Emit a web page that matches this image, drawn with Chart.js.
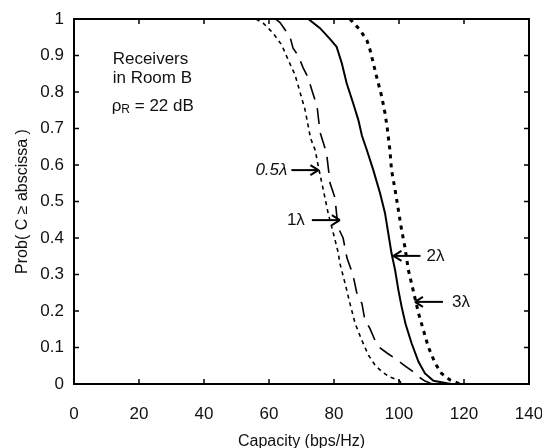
<!DOCTYPE html>
<html><head><meta charset="utf-8">
<script src="https://cdn.jsdelivr.net/npm/chart.js@4/dist/chart.umd.min.js"></script>
<style>html,body{margin:0;padding:0;background:#fff;}canvas{display:block;}</style>
</head><body>
<canvas id="c" width="542" height="448"></canvas>
<script>
// ---- data ----
const cap05  = [56, 58.3, 61.3, 63.9, 65.9, 68.0, 69.5, 71.1, 72.1, 72.8, 74.2, 75.2, 76.7, 78.2, 79.8, 81.3, 81.8, 83.4, 84.9, 86.5, 88.5, 90.6, 92.6, 94.7, 97.0, 100.0, 101.0];
const prob05 = [1, 0.988, 0.961, 0.929, 0.888, 0.847, 0.801, 0.751, 0.705, 0.673, 0.641, 0.595, 0.532, 0.468, 0.413, 0.360, 0.331, 0.276, 0.221, 0.166, 0.121, 0.079, 0.052, 0.034, 0.020, 0.010, 0];
const cap1   = [62, 63.4, 65, 66.5, 67.4, 69, 70.5, 72, 73.2, 74.8, 75.7, 77.7, 78.8, 80.3, 81.2, 82.8, 84, 85.8, 87, 88.6, 89.5, 91, 92.6, 94, 96.3, 98.8, 101.5, 104, 106, 108, 110, 111];
const prob1  = [1, 0.99, 0.97, 0.95, 0.92, 0.90, 0.866, 0.84, 0.805, 0.76, 0.69, 0.633, 0.55, 0.51, 0.43, 0.40, 0.345, 0.30, 0.25, 0.22, 0.175, 0.153, 0.12, 0.10, 0.085, 0.07, 0.052, 0.036, 0.02, 0.008, 0.001, 0];
const cap2   = [72.1, 75.7, 78.8, 80.8, 82.4, 83.9, 85.9, 87.5, 88.6, 90.1, 92.1, 94.2, 95.7, 96.7, 97.7, 98.8, 99.8, 100.8, 102.0, 103.9, 106, 108, 110.6, 114.7, 116];
const prob2  = [1, 0.975, 0.945, 0.924, 0.879, 0.824, 0.769, 0.723, 0.68, 0.641, 0.586, 0.522, 0.468, 0.413, 0.358, 0.312, 0.258, 0.212, 0.165, 0.111, 0.061, 0.029, 0.009, 0.002, 0];
const cap3   = [84.9, 88, 90.1, 91.1, 92.1, 93.1, 94.7, 95.7, 96.4, 97.2, 97.7, 98.8, 99.8, 100.8, 101.8, 102.9, 104.4, 106, 107.5, 109, 111.1, 113.1, 115.7, 118.2, 119.5];
const prob3  = [1, 0.97, 0.942, 0.915, 0.879, 0.842, 0.787, 0.742, 0.70, 0.641, 0.586, 0.532, 0.477, 0.422, 0.376, 0.312, 0.255, 0.194, 0.148, 0.102, 0.057, 0.029, 0.011, 0.002, 0];
const xTickLabels = ['0', '20', '40', '60', '80', '100', '120', '140'];
const yTickLabels = ['0', '0.1', '0.2', '0.3', '0.4', '0.5', '0.6', '0.7', '0.8', '0.9', '1'];
const curveNames  = ['0.5λ', '1λ', '2λ', '3λ'];
const arrowCap    = [75.2, 81.8, 98.3, 104.9];
const arrowProb   = [0.586, 0.449, 0.351, 0.225];
const noteLines   = ['Receivers', 'in Room B'];

const FONT = '"Liberation Sans", Arial, Helvetica, sans-serif';
const pts = (xs, ys) => xs.map((v, i) => ({x: v, y: ys[i]}));

const deco = {
  id: 'deco',
  afterDatasetsDraw(chart) {
    const {ctx, chartArea: a, scales: {x, y}} = chart;
    ctx.save();
    ctx.strokeStyle = '#000'; ctx.fillStyle = '#111';
    ctx.lineWidth = 2;
    ctx.strokeRect(a.left, a.top, a.right - a.left, a.bottom - a.top);
    const seg = (x1, y1, x2, y2) => { ctx.beginPath(); ctx.moveTo(x1, y1); ctx.lineTo(x2, y2); ctx.stroke(); };
    ctx.lineWidth = 1.5;
    const tl = 5;
    x.ticks.forEach(t => {
      if (t.value <= x.min || t.value >= x.max) return;
      const p = x.getPixelForValue(t.value);
      seg(p, a.bottom, p, a.bottom - tl); seg(p, a.top, p, a.top + tl);
    });
    y.ticks.forEach(t => {
      if (t.value <= y.min || t.value >= y.max) return;
      const p = y.getPixelForValue(t.value);
      seg(a.left, p, a.left + tl, p); seg(a.right, p, a.right - tl, p);
    });
    // note text
    ctx.font = '17px ' + FONT;
    ctx.textAlign = 'left'; ctx.textBaseline = 'middle';
    const nx = x.getPixelForValue(11.9);
    ctx.fillText(noteLines[0], nx, y.getPixelForValue(0.89));
    ctx.fillText(noteLines[1], nx, y.getPixelForValue(0.838));
    const ry = y.getPixelForValue(0.762);
    ctx.fillText('ρ', nx - 1, ry);
    let w = ctx.measureText('ρ').width;
    ctx.font = '12px ' + FONT;
    ctx.fillText('R', nx - 1 + w, ry + 4);
    const w2 = ctx.measureText('R').width;
    ctx.font = '17px ' + FONT;
    ctx.fillText(' = 22 dB', nx - 1 + w + w2, ry);
    // arrows
    const side = [-1, -1, 1, 1], len = [27, 28, 27, 28], gap = [4, 7, 6, 9];
    ctx.lineWidth = 2;
    curveNames.forEach((name, i) => {
      const tx = x.getPixelForValue(arrowCap[i]), ty = y.getPixelForValue(arrowProb[i]);
      const s = side[i];
      const tail = tx + s * len[i];
      seg(tail, ty, tx, ty);
      seg(tx, ty, tx + s * 8, ty - 5);
      seg(tx, ty, tx + s * 8, ty + 5);
      ctx.font = (i === 0 ? 'italic ' : '') + '17px ' + FONT;
      ctx.textAlign = s < 0 ? 'right' : 'left';
      ctx.fillText(name, tail + s * gap[i], ty);
    });
    ctx.restore();
  }
};

new Chart(document.getElementById('c'), {
  type: 'line',
  data: {
    datasets: [
      {label: curveNames[0], data: pts(cap05, prob05), borderColor: '#000', borderWidth: 1.6, borderDash: [4, 4]},
      {label: curveNames[1], data: pts(cap1, prob1), borderColor: '#000', borderWidth: 1.6, borderDash: [16, 9]},
      {label: curveNames[2], data: pts(cap2, prob2), borderColor: '#000', borderWidth: 2},
      {label: curveNames[3], data: pts(cap3, prob3), borderColor: '#000', borderWidth: 3, borderDash: [4, 5]}
    ]
  },
  options: {
    responsive: false, animation: false, devicePixelRatio: 1,
    elements: {point: {radius: 0}, line: {tension: 0, fill: false}},
    layout: {padding: {left: 0, right: 13, top: 19, bottom: 0}},
    plugins: {legend: {display: false}, tooltip: {enabled: false}},
    scales: {
      x: {
        type: 'linear', min: 0, max: 140,
        grid: {display: false, drawTicks: false}, border: {display: false},
        ticks: {stepSize: 20, padding: 20, color: '#111', font: {family: FONT, size: 17},
                callback: (v) => xTickLabels[Math.round(v / 20)]},
        title: {display: true, text: 'Capacity (bps/Hz)', color: '#111', padding: {top: 0, bottom: 0},
                font: {family: FONT, size: 16, lineHeight: 0.75}},
        afterFit: (s) => { s.height = 64; s.paddingLeft = 0; s.paddingRight = 0; }
      },
      y: {
        type: 'linear', min: 0, max: 1,
        grid: {display: false, drawTicks: false}, border: {display: false},
        ticks: {stepSize: 0.1, padding: 10, color: '#111', font: {family: FONT, size: 17},
                callback: (v) => yTickLabels[Math.round(v * 10)]},
        title: {display: true, text: 'Prob( C ≥ abscissa )', color: '#111', padding: {top: 13, bottom: 0},
                font: {family: FONT, size: 16, lineHeight: 1.2}},
        afterFit: (s) => { s.width = 74; s.paddingTop = 0; s.paddingBottom = 0; }
      }
    }
  },
  plugins: [deco]
});
</script>
</body></html>
